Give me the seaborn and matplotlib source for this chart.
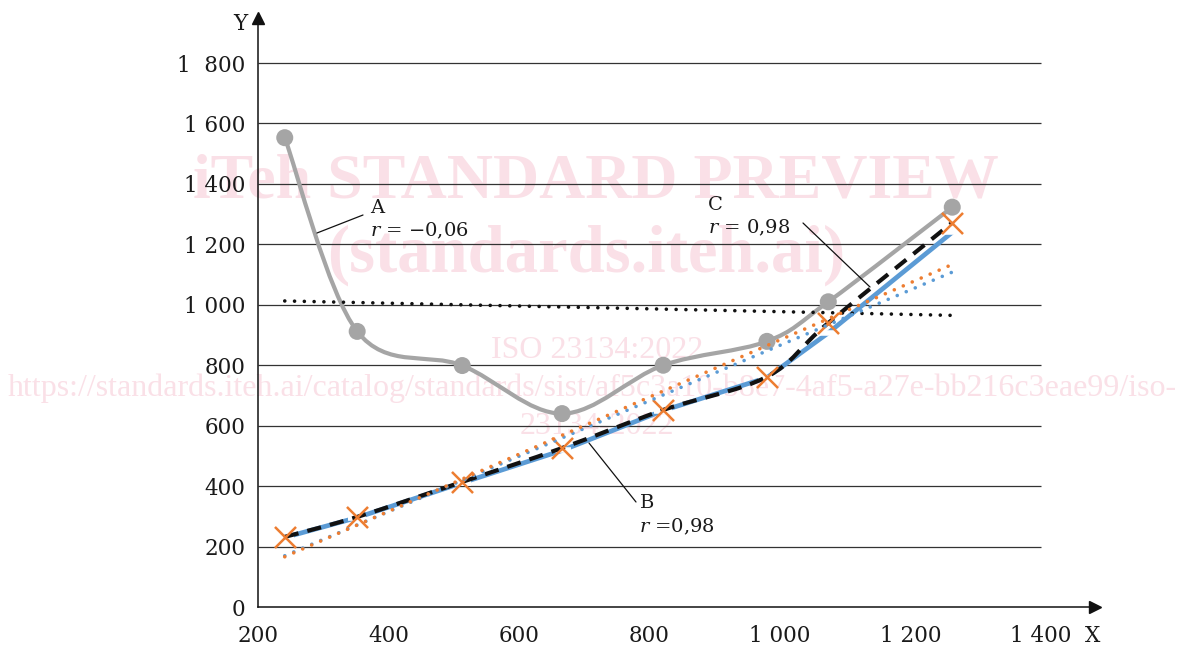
import numpy as np
import pandas as pd
import matplotlib
matplotlib.use("Agg")
import matplotlib.pyplot as plt
from matplotlib.path import Path
from matplotlib.patches import PathPatch
import seaborn as sns

# ---------------- data ----------------
x_vals = [241, 352, 513, 666, 821, 980, 1074, 1264]
a_vals = [1553, 912, 799, 640, 800, 879, 1010, 1323]   # series A (grey, smoothed)
b_vals = [230, 296, 411, 518, 650, 759, 907, 1240]     # series B (blue)
c_vals = [232, 298, 414, 526, 652, 762, 940, 1272]     # series C (orange x, black dashed)

x_ticks = [200, 400, 600, 800, 1000, 1200, 1400]
x_tick_labels = ["200", "400", "600", "800", "1 000", "1 200", "1 400"]
y_ticks = [0, 200, 400, 600, 800, 1000, 1200, 1400, 1600, 1800]
y_tick_labels = ["0", "200", "400", "600", "800", "1 000", "1 200", "1 400", "1 600", "1  800"]

labels_text = {"A": "$r$ = \u22120,06", "B": "$r$ =0,98", "C": "$r$ = 0,98"}

df = pd.DataFrame({"x": x_vals, "A": a_vals, "B": b_vals, "C": c_vals})

# ---------------- style ----------------
sns.set_style("white")
plt.rcParams["font.family"] = ["DejaVu Serif"]
plt.rcParams["mathtext.fontset"] = "dejavuserif"

GREY = "#A5A5A5"
BLUE = "#5B9BD5"
ORANGE = "#ED7D31"
PINK = "#FAE0E7"

W, H = 1183, 647
fig = plt.figure(figsize=(W / 100, H / 100), dpi=100)

left_px, right_px, bottom_px, top_px = 258, 1095, 607, 18
ax = fig.add_axes([left_px / W, 1 - bottom_px / H,
                   (right_px - left_px) / W, (bottom_px - top_px) / H])
ax.set_facecolor("none")

x_per_px = 200 / 130.5
y_per_px = 200 / 60.44
ax.set_xlim(200, 200 + (right_px - left_px) * x_per_px)
ax.set_ylim(0, (bottom_px - top_px) * y_per_px)


def smooth_path(xs, ys):
    P = np.column_stack([xs, ys]).astype(float)
    n = len(P)
    verts = [P[0]]
    codes = [Path.MOVETO]
    for i in range(n - 1):
        p0 = P[max(i - 1, 0)]
        p1 = P[i]
        p2 = P[i + 1]
        p3 = P[min(i + 2, n - 1)]
        verts += [p1 + (p2 - p0) / 6, p2 - (p3 - p1) / 6, p2]
        codes += [Path.CURVE4] * 3
    return Path(verts, codes)


# gridlines
ax.hlines(y_ticks[1:], 200, 1400, color="#333333", lw=0.9, zorder=1)

# Series A: grey smoothed line with circles
ax.add_patch(PathPatch(smooth_path(df["x"], df["A"]), fill=False, edgecolor=GREY,
                       lw=3.0, capstyle="round", joinstyle="round", zorder=3))
sns.scatterplot(data=df, x="x", y="A", ax=ax, color=GREY, s=150, edgecolor="none",
                zorder=4, legend=False)

# Series B: blue straight line with dash markers
sns.lineplot(data=df, x="x", y="B", ax=ax, color=BLUE, lw=3.4, marker="_",
             markersize=13, markeredgewidth=4, zorder=5, legend=False)

# Series C: black dashed smoothed line and orange x markers
ax.add_patch(PathPatch(smooth_path(df["x"], df["C"]), fill=False, edgecolor="#111111",
                       lw=3.0, linestyle=(0, (3.4, 2.2)), capstyle="butt", zorder=6))
sns.scatterplot(data=df, x="x", y="C", ax=ax, color=ORANGE, marker="x", s=230,
                linewidth=1.8, zorder=7, legend=False)

# linear trend lines
dot = (0, (0.01, 2.7))
for col, colr in [("A", "#111111"), ("B", BLUE), ("C", ORANGE)]:
    sns.regplot(data=df, x="x", y=col, ax=ax, scatter=False, ci=None, truncate=True,
                line_kws=dict(color=colr, lw=2.6, linestyle=dot,
                              dash_capstyle="round", zorder=8))

ax.set_xlabel("")
ax.set_ylabel("")

# axes, ticks
ax.set_xticks(x_ticks)
ax.set_xticklabels(x_tick_labels)
ax.set_yticks(y_ticks)
ax.set_yticklabels(y_tick_labels)
ax.tick_params(length=0, labelsize=15.5, colors="#1a1a1a")
ax.tick_params(axis="x", pad=13)
ax.tick_params(axis="y", pad=9)
for s in ["top", "right"]:
    ax.spines[s].set_visible(False)
for s in ["left", "bottom"]:
    ax.spines[s].set_color("#111111")
    ax.spines[s].set_linewidth(1.1)
ax.plot(1, 0, marker=">", color="#111111", ms=8, transform=ax.transAxes, clip_on=False)
ax.plot(0, 1, marker="^", color="#111111", ms=8, transform=ax.transAxes, clip_on=False)

fig.text(1093 / W, 1 - 636 / H, "X", ha="center", va="center", fontsize=15.5, color="#1a1a1a")
fig.text(240 / W, 1 - 24 / H, "Y", ha="center", va="center", fontsize=15.5, color="#1a1a1a")

# annotations
def px2data(px, py):
    return 200 + (px - left_px) * x_per_px, (bottom_px - py) * y_per_px

ann = {
    "A": dict(name_px=(370, 208), r_px=(370, 231), lead=((317, 233), (363, 215))),
    "B": dict(name_px=(640, 503), r_px=(639, 527), lead=((589, 443), (636, 502))),
    "C": dict(name_px=(708, 205), r_px=(708, 228), lead=((803, 223), (870, 287))),
}
for key, d in ann.items():
    nx, ny = px2data(*d["name_px"])
    rx, ry = px2data(*d["r_px"])
    ax.text(nx, ny, key, ha="left", va="center", fontsize=14, color="#1a1a1a", zorder=10)
    ax.text(rx, ry, labels_text[key], ha="left", va="center", fontsize=14,
            color="#1a1a1a", zorder=10)
    (x0, y0), (x1, y1) = [px2data(*p) for p in d["lead"]]
    ax.plot([x0, x1], [y0, y1], color="#111111", lw=0.9, zorder=10)

# watermark (behind chart)
wm = dict(color=PINK, family="Liberation Serif", ha="center", va="center", zorder=-5)
fig.text(596 / W, 1 - 182 / H, "iTeh STANDARD PREVIEW", fontsize=46, weight="bold", **wm)
fig.text(586 / W, 1 - 255 / H, "(standards.iteh.ai)", fontsize=48, weight="bold", **wm)
fig.text(597 / W, 1 - 350 / H, "ISO 23134:2022", fontsize=23, **wm)
fig.text(592 / W, 1 - 388 / H,
         "https://standards.iteh.ai/catalog/standards/sist/af5c3a10-b8e7-4af5-a27e-bb216c3eae99/iso-",
         fontsize=23, **wm)
fig.text(597 / W, 1 - 426 / H, "23134-2022", fontsize=23, **wm)

fig.savefig("out.png", dpi=100)
